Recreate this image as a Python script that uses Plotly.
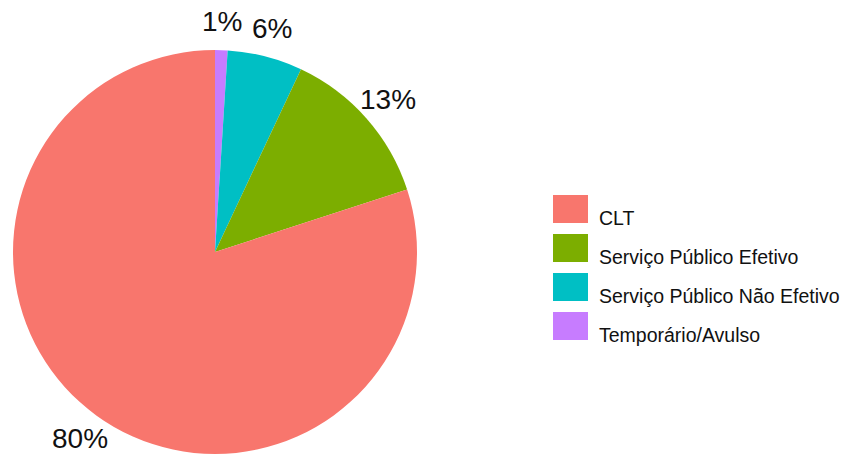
import math
import plotly.graph_objects as go

# Data (clockwise from 12 o'clock)
categories = ["Temporário/Avulso", "Serviço Público Não Efetivo", "Serviço Público Efetivo", "CLT"]
values = [1, 6, 13, 80]
colors = ["#C77CFF", "#00BFC4", "#7CAE00", "#F8766D"]
legend_order = ["CLT", "Serviço Público Efetivo", "Serviço Público Não Efetivo", "Temporário/Avulso"]

W, H = 841, 464
cx, cy, R = 215, 252, 202
font = "Liberation Sans, Arial, sans-serif"

fig = go.Figure(go.Pie(
    labels=categories, values=values, sort=False, direction="clockwise", rotation=0,
    marker=dict(colors=colors, line=dict(width=0)), textinfo="none", hoverinfo="label+percent",
    domain=dict(x=[(cx - R) / W, (cx + R) / W], y=[(H - cy - R) / H, (H - cy + R) / H]),
    showlegend=False,
))

# percentage labels placed outside at slice mid-angles
total = sum(values)
cum = 0
annotations = []
for v in values:
    mid = (cum + v / 2) / total * 2 * math.pi
    cum += v
    r = R * 1.14
    px = cx + r * math.sin(mid)
    py = cy - r * math.cos(mid)
    annotations.append(dict(x=px / W, y=(H - py) / H, xref="paper", yref="paper",
                            text=f"{round(v / total * 100)}%", showarrow=False,
                            font=dict(family=font, size=28, color="#111111"),
                            xanchor="center", yanchor="middle"))

# custom legend
shapes = []
lx0, ly0, kw, kh, gap = 553, 195, 35, 28, 39
for i, name in enumerate(legend_order):
    col = colors[categories.index(name)]
    top = ly0 + i * gap
    shapes.append(dict(type="rect", xref="paper", yref="paper",
                       x0=lx0 / W, x1=(lx0 + kw) / W, y0=(H - top - kh) / H, y1=(H - top) / H,
                       fillcolor=col, line=dict(width=0)))
    annotations.append(dict(x=597 / W, y=(H - (top + kh / 2 + 9)) / H, xref="paper", yref="paper",
                            text=name, showarrow=False, xanchor="left", yanchor="middle",
                            font=dict(family=font, size=19.5, color="#111111")))

fig.update_layout(width=W, height=H, margin=dict(l=0, r=0, t=0, b=0),
                  paper_bgcolor="white", plot_bgcolor="white",
                  annotations=annotations, shapes=shapes)
fig.write_html("out.html", config={"displayModeBar": False})

# remove the default page margin so the figure sits at the window origin
with open("out.html", encoding="utf-8") as f:
    html = f.read()
html = html.replace("<head>", "<head><style>html,body{margin:0;padding:0;overflow:hidden}</style>", 1)
with open("out.html", "w", encoding="utf-8") as f:
    f.write(html)
